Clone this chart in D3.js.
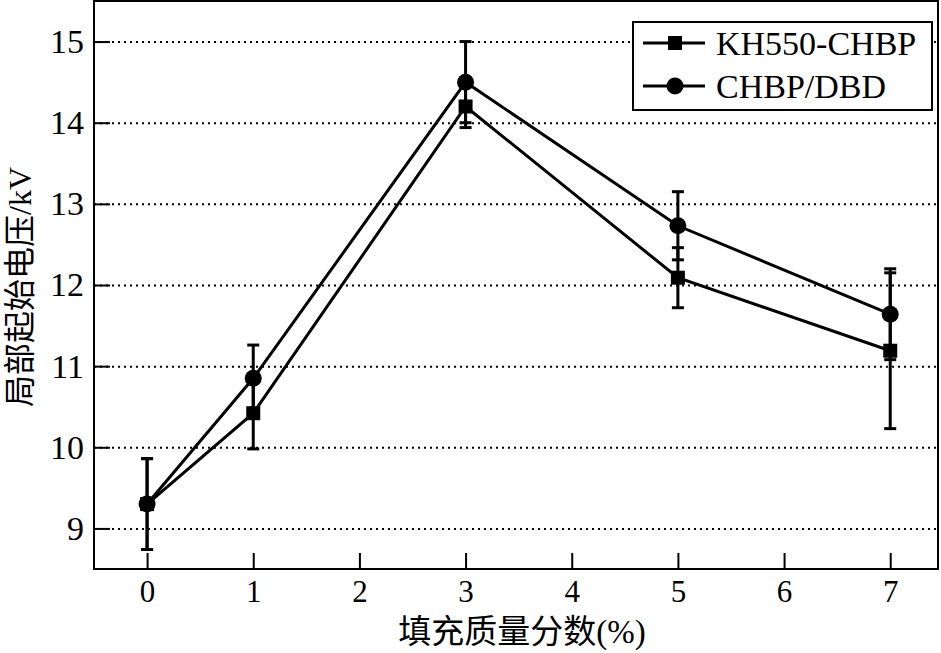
<!DOCTYPE html>
<html>
<head>
<meta charset="utf-8">
<script src="https://cdn.jsdelivr.net/npm/d3@7"></script>
<style>
  body { margin: 0; background: #fff; }
  svg { display: block; }
  text { font-family: "Liberation Serif", "Times New Roman", "Noto Sans CJK SC", serif; fill: #000; }
</style>
</head>
<body>
<svg></svg>
<script>
// filler content (%) and inception voltage (kV)
const fillers = [0, 1, 3, 5, 7]
const kh550 = [9.30, 10.42, 14.20, 12.09, 11.19]
const kh550Err = [0.56, 0.44, 0.26, 0.37, 0.96]
const dbd = [9.30, 10.85, 14.50, 12.73, 11.64]
const dbdErr = [0.56, 0.41, 0.50, 0.42, 0.56]
const seriesNames = ['KH550-CHBP', 'CHBP/DBD']
const xTicks = [0, 1, 2, 3, 4, 5, 6, 7]
const yTicks = [9, 10, 11, 12, 13, 14, 15]
const xTitle = '填充质量分数(%)'
const yTitle = '局部起始电压/kV'

const width = 941
const height = 653
const plotLeft = 94
const plotRight = 938
const plotTop = 1
const plotBottom = 569

const svg = d3.select('svg')
    .attr('width', width)
    .attr('height', height)

const xScale = d3.scaleLinear()
    .domain([-0.5, 7.45])
    .range([plotLeft, plotRight])

const yScale = d3.scaleLinear()
    .domain([8.5, 15.5])
    .range([plotBottom, plotTop])

const series = [
    { name: seriesNames[0], values: kh550, err: kh550Err, shape: 'square' },
    { name: seriesNames[1], values: dbd, err: dbdErr, shape: 'circle' }
]

// dotted horizontal grid
let grid = svg.append('g')
    .attr('transform', 'translate(' + plotLeft + ',0)')
    .call(d3.axisLeft(yScale).tickValues(yTicks).tickSize(-(plotRight - plotLeft)).tickFormat(''))
grid.select('.domain').remove()
grid.selectAll('line')
    .attr('stroke', '#000')
    .attr('stroke-width', 2)
    .attr('stroke-dasharray', '2,4')

let drawMarker = (g, shape, cx, cy) => {
    if (shape === 'square') {
        g.append('rect')
            .attr('x', cx - 7).attr('y', cy - 7)
            .attr('width', 14).attr('height', 14)
            .attr('fill', '#000')
    } else {
        g.append('circle')
            .attr('cx', cx).attr('cy', cy)
            .attr('r', 8.5)
            .attr('fill', '#000')
    }
}

let line = d3.line()
    .x((d, i) => xScale(fillers[i]))
    .y(d => yScale(d))

series.forEach(s => {
    svg.append('path')
        .datum(s.values)
        .attr('d', line)
        .attr('fill', 'none')
        .attr('stroke', '#000')
        .attr('stroke-width', 3)
})

// error bars
series.forEach(s => {
    let g = svg.append('g').attr('stroke', '#000').attr('stroke-width', 3)
    s.values.forEach((v, i) => {
        let x = xScale(fillers[i])
        let y1 = yScale(v + s.err[i])
        let y2 = yScale(v - s.err[i])
        g.append('line').attr('x1', x).attr('x2', x).attr('y1', y1).attr('y2', y2)
        g.append('line').attr('x1', x - 6).attr('x2', x + 6).attr('y1', y1).attr('y2', y1)
        g.append('line').attr('x1', x - 6).attr('x2', x + 6).attr('y1', y2).attr('y2', y2)
    })
})

series.forEach(s => {
    let g = svg.append('g')
    s.values.forEach((v, i) => drawMarker(g, s.shape, xScale(fillers[i]), yScale(v)))
})

// axes with inward ticks
let xAxis = svg.append('g')
    .attr('transform', 'translate(0,' + plotBottom + ')')
    .call(d3.axisBottom(xScale).tickValues(xTicks).tickFormat(d3.format('d'))
        .tickSizeInner(-16).tickSizeOuter(0).tickPadding(11))
xAxis.select('.domain').remove()
xAxis.selectAll('line').attr('stroke-width', 2)
xAxis.selectAll('text')
    .style('font-size', '31px')
    .style('font-family', '"Liberation Serif", "Times New Roman", serif')

let yAxis = svg.append('g')
    .attr('transform', 'translate(' + plotLeft + ',0)')
    .call(d3.axisLeft(yScale).tickValues(yTicks).tickFormat(d3.format('d'))
        .tickSizeInner(-16).tickSizeOuter(0).tickPadding(10))
yAxis.select('.domain').remove()
yAxis.selectAll('line').attr('stroke-width', 2)
yAxis.selectAll('text')
    .style('font-size', '34px')
    .style('font-family', '"Liberation Serif", "Times New Roman", serif')

svg.append('rect')
    .attr('x', plotLeft).attr('y', plotTop)
    .attr('width', plotRight - plotLeft).attr('height', plotBottom - plotTop)
    .attr('fill', 'none')
    .attr('stroke', '#000')
    .attr('stroke-width', 2)

// titles
svg.append('text')
    .attr('x', 522).attr('y', 643)
    .attr('text-anchor', 'middle')
    .style('font-size', '33px')
    .text(xTitle)

svg.append('text')
    .attr('transform', 'translate(31,287) rotate(-90)')
    .attr('text-anchor', 'middle')
    .style('font-size', '32px')
    .text(yTitle)

// legend
let legend = svg.append('g')
legend.append('rect')
    .attr('x', 633).attr('y', 22)
    .attr('width', 299).attr('height', 88)
    .attr('fill', '#fff')
    .attr('stroke', '#000')
    .attr('stroke-width', 2)
series.forEach((s, i) => {
    let y = 43 + i * 43
    legend.append('line')
        .attr('x1', 643).attr('x2', 705)
        .attr('y1', y).attr('y2', y)
        .attr('stroke', '#000')
        .attr('stroke-width', 3)
    drawMarker(legend, s.shape, 675, y)
    legend.append('text')
        .attr('x', 716).attr('y', y + 12)
        .style('font-size', '34px')
        .text(s.name)
})
</script>
</body>
</html>
